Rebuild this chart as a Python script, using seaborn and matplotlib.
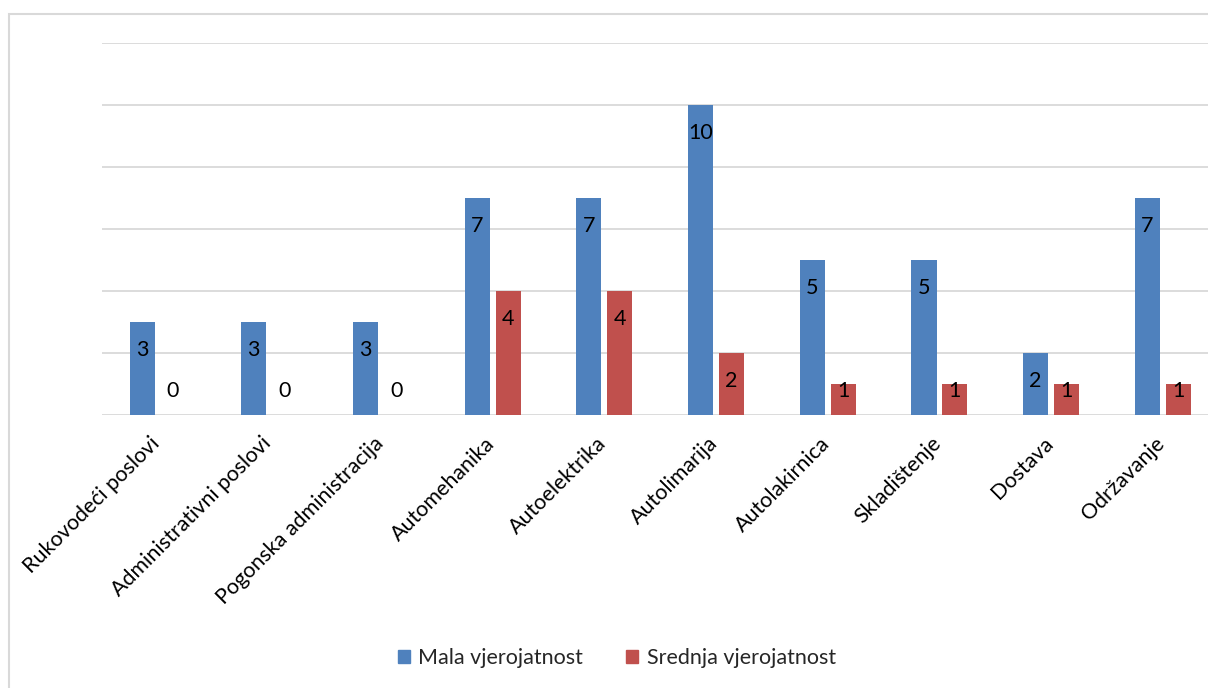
import matplotlib
matplotlib.use("Agg")
import matplotlib.pyplot as plt
import seaborn as sns
import pandas as pd
from matplotlib.patches import Rectangle
from matplotlib.transforms import ScaledTranslation

categories = ["Rukovodeći poslovi", "Administrativni poslovi", "Pogonska administracija",
              "Automehanika", "Autoelektrika", "Autolimarija", "Autolakirnica",
              "Skladištenje", "Dostava", "Održavanje"]
series_names = ["Mala vjerojatnost", "Srednja vjerojatnost"]
mala = [3, 3, 3, 7, 7, 10, 5, 5, 2, 7]
srednja = [0, 0, 0, 4, 4, 2, 1, 1, 1, 1]
colors = ["#4F81BD", "#C0504D"]

sns.set_theme(style="white")
plt.rcParams["font.family"] = ["Lato", "DejaVu Sans"]

FS = 15.5

df = pd.DataFrame({
    "cat": categories * 2,
    "series": [series_names[0]] * len(categories) + [series_names[1]] * len(categories),
    "val": mala + srednja,
})

fig = plt.figure(figsize=(12.08, 6.88), dpi=100)
ax = fig.add_axes([101.7 / 1208, (688 - 415) / 688, 1117 / 1208, (415 - 43) / 688])

width = 0.554
gap = 0.19
sns.barplot(data=df, x="cat", y="val", hue="series", palette=colors,
            width=width, gap=gap, ax=ax, legend=False, saturation=1,
            edgecolor="none")

ax.set_ylim(0, 12)
ax.set_xlim(-0.5, len(categories) - 0.5)
ax.set_yticks(range(0, 13, 2))
ax.yaxis.grid(True, color="#D9D9D9", linewidth=1.3)
ax.set_axisbelow(True)
for s in ax.spines.values():
    s.set_visible(False)
ax.tick_params(axis="y", left=False, labelleft=False)
ax.tick_params(axis="x", bottom=False, pad=0)
ax.set_xlabel("")
ax.set_ylabel("")
ax.set_xticks(range(len(categories)))
ax.set_xticklabels(categories, rotation=45, ha="right", va="center",
                   rotation_mode="anchor", fontsize=FS, color="black")
shift = ScaledTranslation(-1 / 100, -17 / 100, fig.dpi_scale_trans)
for lab in ax.get_xticklabels():
    lab.set_transform(lab.get_transform() + shift)

slot = width / 2
for si, vals in enumerate([mala, srednja]):
    offset = (si - 0.5) * slot
    for i, v in enumerate(vals):
        y = max(v - 0.9, 0.78)
        ax.text(i + offset, y, str(v), ha="center", va="center",
                fontsize=FS, color="black")

handles = [Rectangle((0, 0), 1, 1, color=c) for c in colors]
fig.legend(handles, series_names, loc="center", bbox_to_anchor=(617 / 1208, 1 - 658 / 688),
           ncol=2, frameon=False, fontsize=FS, handlelength=0.55, handleheight=0.55,
           handletextpad=0.4, columnspacing=2.0)

fig.add_artist(Rectangle((8.5 / 1208, -0.01), 1.1, 1 - 13.5 / 688 + 0.01,
                         transform=fig.transFigure, fill=False,
                         edgecolor="#D9D9D9", linewidth=1.5))

fig.savefig("out.png", dpi=100)
